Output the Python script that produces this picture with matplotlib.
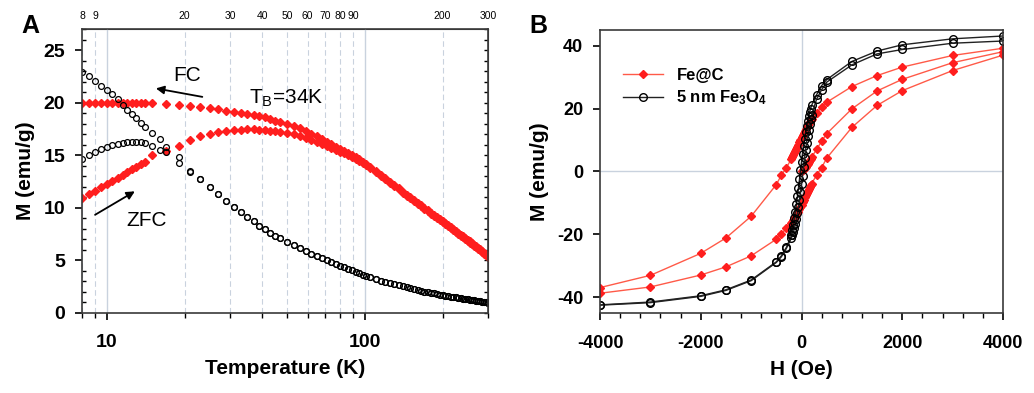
import numpy as np
import matplotlib.pyplot as plt
from matplotlib.ticker import LogLocator, FixedLocator, NullFormatter, MultipleLocator, NullLocator

# ---------------------------------------------------------------
# Panel A data: M(T), FC / ZFC
# ---------------------------------------------------------------
T_low_red = [8, 8.5, 9, 9.5, 10, 10.5, 11, 11.5, 12, 12.5, 13, 13.5, 14, 15, 17, 19, 21]
T_low_blk = [8, 8.5, 9, 9.5, 10, 10.5, 11, 11.5, 12, 12.5, 13, 13.5, 14, 15, 16, 17, 19, 21]
T_high = [23, 25, 27, 29, 31, 33, 35, 37, 39, 41, 43, 45, 47,
          50, 53, 56, 59, 62, 65, 68, 71, 74, 77, 80, 83, 86, 89, 92, 95, 98, 101,
          105, 110, 115, 120, 125, 130, 135, 140, 145, 150, 155, 160, 165, 170, 175,
          180, 185, 190, 195, 200, 205, 210, 215, 220, 225, 230, 235, 240, 245, 250,
          255, 260, 265, 270, 275, 280, 285, 290, 295, 300]

# Fe@C
fec_fc_low = [20.0, 20.0, 20.0, 20.0, 20.0, 20.0, 20.0, 20.0, 20.0, 20.0, 20.0, 20.0, 20.0,
              19.95, 19.85, 19.75, 19.65]
fec_fc_high = [19.55, 19.45, 19.35, 19.25, 19.15, 19.05, 18.95, 18.85, 18.7, 18.6, 18.45, 18.3, 18.15,
               17.95, 17.75, 17.55, 17.3, 17.05, 16.8, 16.55, 16.3, 16.05, 15.8, 15.6, 15.4, 15.2,
               15.0, 14.8, 14.6, 14.4, 14.2,
               13.9, 13.5, 13.15, 12.8, 12.45, 12.15, 11.85, 11.55, 11.25, 11.0, 10.75, 10.5,
               10.25, 10.0, 9.8, 9.55, 9.35, 9.15, 8.95, 8.75, 8.55, 8.35, 8.15, 8.0, 7.8, 7.6,
               7.45, 7.3, 7.1, 6.95, 6.8, 6.65, 6.5, 6.35, 6.2, 6.05, 5.9, 5.75, 5.6, 5.45]
fec_zfc_low = [10.9, 11.27, 11.63, 11.96, 12.28, 12.58, 12.86, 13.14, 13.4, 13.65, 13.89, 14.13, 14.35,
               15.0, 15.4, 15.9, 16.4]
fec_zfc_high = [16.8, 17.05, 17.2, 17.3, 17.38, 17.42, 17.45, 17.45, 17.42, 17.38, 17.33, 17.27, 17.2,
                17.1, 16.98, 16.83, 16.66, 16.48, 16.28, 16.08, 15.88, 15.68, 15.5, 15.35, 15.2,
                15.02, 14.85, 14.65, 14.45, 14.25, 14.05,
                13.8, 13.4, 13.05, 12.7, 12.35, 12.05, 11.75, 11.45, 11.15, 10.9, 10.65, 10.4,
                10.15, 9.9, 9.7, 9.45, 9.25, 9.05, 8.85, 8.65, 8.45, 8.25, 8.05, 7.9, 7.7, 7.5,
                7.35, 7.2, 7.0, 6.85, 6.7, 6.55, 6.4, 6.25, 6.1, 5.95, 5.8, 5.65, 5.5, 5.35]

# 5 nm Fe3O4
fe3o4_fc_low = [22.9, 22.5, 22.1, 21.6, 21.2, 20.8, 20.3, 19.8, 19.3, 18.9, 18.5, 18.1, 17.7,
                17.1, 16.5, 15.8, 14.8, 13.5]
fe3o4_zfc_low = [14.6, 15.0, 15.3, 15.6, 15.8, 16.0, 16.1, 16.2, 16.25, 16.3, 16.3, 16.25, 16.2,
                 15.9, 15.5, 15.35, 14.3, 13.4]
fe3o4_high = [12.7, 12.0, 11.3, 10.65, 10.1, 9.6, 9.1, 8.7, 8.3, 7.95, 7.65, 7.35, 7.1,
              6.75, 6.45, 6.15, 5.9, 5.65, 5.45, 5.25, 5.05, 4.85, 4.65, 4.5, 4.35, 4.2, 4.05,
              3.9, 3.78, 3.65, 3.5,
              3.38, 3.22, 3.08, 2.95, 2.83, 2.72, 2.62, 2.52, 2.43, 2.34, 2.26, 2.18, 2.11,
              2.04, 1.98, 1.92, 1.86, 1.8, 1.75, 1.7, 1.65, 1.6, 1.56, 1.52, 1.48, 1.44, 1.4,
              1.36, 1.33, 1.29, 1.26, 1.23, 1.2, 1.17, 1.14, 1.11, 1.08, 1.05, 1.02, 0.99]

# ---------------------------------------------------------------
# Panel B data: M(H) loops
# ---------------------------------------------------------------
H_desc = [4000, 3000, 2000, 1500, 1000, 500, 400, 300, 200, 180, 160, 140, 120, 100, 80, 60,
          40, 20, 0, -20, -40, -60, -80, -100, -120, -140, -160, -180, -200, -300, -400,
          -500, -1000, -1500, -2000, -3000, -4000]
H_asc = H_desc[::-1]
H_virgin = [0, 20, 40, 60, 80, 100, 120, 140, 160, 180, 200, 300, 400, 500, 1000, 1500,
            2000, 3000, 4000]

fec_desc = [39.2, 36.9, 33.2, 30.5, 27.0, 22.0, 20.5, 18.6, 16.6, 16.2, 15.8, 15.3, 14.8, 14.2,
            13.6, 13.0, 12.3, 11.6, 10.8, 10.0, 9.2, 8.4, 7.7, 7.0, 6.4, 5.8, 5.2, 4.6, 4.0,
            1.2, -1.2, -4.2, -14.3, -21.2, -26.1, -33.1, -37.0]
fec_asc = [-38.8, -36.8, -33.0, -30.4, -26.9, -21.6, -20.0, -18.0, -16.4, -16.0, -15.6, -15.1,
           -14.6, -14.0, -13.4, -12.8, -12.1, -11.4, -10.6, -9.8, -9.0, -8.2, -7.5, -6.8, -6.2,
           -5.6, -5.0, -4.4, -3.9, -1.2, 1.2, 4.2, 14.0, 21.0, 25.7, 32.1, 37.0]
fec_virgin = [0.0, 0.3, 0.6, 1.0, 1.5, 2.0, 2.5, 3.0, 3.5, 4.0, 4.5, 7.0, 9.6, 12.0, 19.9,
              25.6, 29.3, 34.6, 38.1]

fe3o4_desc = [43.1, 42.2, 40.3, 38.3, 35.0, 29.2, 27.3, 24.4, 21.0, 20.0, 18.9, 17.6, 16.1,
              14.4, 12.5, 10.4, 8.1, 5.6, 3.0, 0.3, -2.5, -5.2, -7.9, -10.4, -12.8, -15.0,
              -17.0, -18.8, -20.4, -24.2, -26.9, -28.8, -34.6, -37.7, -39.6, -41.6, -42.5]
fe3o4_asc = [-42.6, -41.8, -39.8, -37.9, -34.8, -29.0, -27.2, -24.5, -21.2, -20.3, -19.3,
             -18.1, -16.7, -15.1, -13.3, -11.3, -9.1, -6.7, -4.1, -1.4, 1.4, 4.1, 6.7, 9.1,
             11.3, 13.2, 15.0, 16.6, 18.0, 23.0, 26.0, 28.4, 33.9, 37.4, 38.8, 40.8, 41.5]

T_top_ticks = [8, 9, 20, 30, 40, 50, 60, 70, 80, 90, 200, 300]

# ---------------------------------------------------------------
# Style
# ---------------------------------------------------------------
plt.rcParams["font.family"] = ["Liberation Sans", "DejaVu Sans"]
plt.rcParams["mathtext.default"] = "regular"
plt.rcParams["axes.unicode_minus"] = False

red = "#FF1E1E"
red_line = "#FF5A48"
grid_c = "#C9D2DE"
spine_c = "#3A3A3A"

fig = plt.figure(figsize=(10.34, 3.93), dpi=100)
axA = fig.add_axes([0.0793, 0.2036, 0.3926, 0.7226])
axB = fig.add_axes([0.5803, 0.2043, 0.3897, 0.7193])

# ---- panel A ----
T_red = T_low_red + T_high
T_blk = T_low_blk + T_high

axA.plot(T_red, fec_fc_low + fec_fc_high, ls="none", marker="D", ms=4.4, color=red, mec=red)
axA.plot(T_red, fec_zfc_low + fec_zfc_high, ls="none", marker="D", ms=4.4, color=red, mec=red)
axA.plot(T_blk, fe3o4_fc_low + fe3o4_high, ls="none", marker="o", ms=4.2, mfc="none",
         mec="black", mew=0.9)
axA.plot(T_blk, fe3o4_zfc_low + fe3o4_high, ls="none", marker="o", ms=4.2, mfc="none",
         mec="black", mew=0.9)

axA.set_xscale("log")
axA.set_xlim(8, 300)
axA.set_ylim(0, 27)
axA.xaxis.set_major_locator(FixedLocator([10, 100]))
axA.xaxis.set_minor_locator(LogLocator(base=10, subs=np.arange(2, 10)))
axA.xaxis.set_minor_formatter(NullFormatter())
axA.set_xticklabels(["10", "100"])
axA.yaxis.set_major_locator(MultipleLocator(5))
axA.yaxis.set_minor_locator(MultipleLocator(1))

axA.grid(which="major", axis="x", color=grid_c, lw=1.0, ls="-", zorder=0)
axA.grid(which="minor", axis="x", color=grid_c, lw=0.8, ls=(0, (5, 3)), zorder=0)
axA.set_axisbelow(True)

axA.tick_params(axis="x", which="major", direction="out", length=5, width=1.2, pad=10,
                labelsize=14)
axA.tick_params(axis="x", which="minor", direction="out", length=3.5, width=1.0)
axA.tick_params(axis="y", which="major", direction="out", length=5, width=1.2, pad=7,
                labelsize=14)
axA.tick_params(axis="y", which="minor", direction="in", length=3, width=1.0)
for lab in axA.get_xticklabels() + axA.get_yticklabels():
    lab.set_fontweight("bold")

# right-side inward ticks
axA_r = axA.secondary_yaxis("right")
axA_r.yaxis.set_major_locator(MultipleLocator(5))
axA_r.yaxis.set_minor_locator(MultipleLocator(1))
axA_r.tick_params(which="both", direction="in", labelright=False, length=3, width=1.0)
axA_r.spines["right"].set_color(spine_c)

# top labels at minor positions
axA_t = axA.secondary_xaxis("top")
axA_t.set_xticks(T_top_ticks)
axA_t.set_xticklabels([str(v) for v in T_top_ticks])
axA_t.xaxis.set_minor_locator(NullLocator())
axA_t.tick_params(length=0, labelsize=7.5, pad=6)
axA_t.spines["top"].set_color(spine_c)

for sp in axA.spines.values():
    sp.set_color(spine_c)
    sp.set_linewidth(1.2)

axA.set_xlabel("Temperature (K)", fontsize=15, fontweight="bold", labelpad=6)
axA.set_ylabel("M (emu/g)", fontsize=15, fontweight="bold", labelpad=6)

axA.text(20.4, 22.6, "FC", fontsize=15, ha="center", va="center")
axA.annotate("", xy=(15.1, 21.4), xytext=(24.0, 20.5),
             arrowprops=dict(arrowstyle="-|>", color="black", lw=1.3, mutation_scale=12))
axA.text(35.5, 20.4, "T$_B$=34K", fontsize=15, ha="left", va="center")
axA.text(14.3, 8.8, "ZFC", fontsize=15, ha="center", va="center")
axA.annotate("", xy=(13.1, 11.7), xytext=(8.8, 9.2),
             arrowprops=dict(arrowstyle="-|>", color="black", lw=1.3, mutation_scale=12))

# ---- panel B ----
axB.axhline(0, color=grid_c, lw=1.0, zorder=0)
axB.axvline(0, color=grid_c, lw=1.0, zorder=0)

kw_red = dict(color=red_line, lw=1.0, marker="D", ms=4.5, mfc=red, mec=red)
axB.plot(H_desc, fec_desc, label="Fe@C", **kw_red)
axB.plot(H_asc, fec_asc, **kw_red)
axB.plot(H_virgin, fec_virgin, **kw_red)

kw_blk = dict(color="#222222", lw=1.0, marker="o", ms=5.5, mfc="none", mec="black", mew=1.0)
axB.plot(H_desc, fe3o4_desc, label="5 nm Fe$_3$O$_4$", **kw_blk)
axB.plot(H_asc, fe3o4_asc, **kw_blk)

axB.set_xlim(-4000, 4000)
axB.set_ylim(-45, 45)
axB.xaxis.set_major_locator(MultipleLocator(2000))
axB.xaxis.set_minor_locator(MultipleLocator(400))
axB.yaxis.set_major_locator(MultipleLocator(20))
axB.tick_params(axis="x", which="major", direction="out", length=5, width=1.2, pad=11,
                labelsize=13)
axB.tick_params(axis="x", which="minor", direction="out", length=3.5, width=1.0)
axB.tick_params(axis="y", which="major", direction="out", length=5, width=1.2, pad=7,
                labelsize=13)
for lab in axB.get_xticklabels() + axB.get_yticklabels():
    lab.set_fontweight("bold")
for sp in axB.spines.values():
    sp.set_color(spine_c)
    sp.set_linewidth(1.2)

axB.set_xlabel("H (Oe)", fontsize=15, fontweight="bold", labelpad=6)
axB.set_ylabel("M (emu/g)", fontsize=15, fontweight="bold", labelpad=6)

leg = axB.legend(loc="upper left", bbox_to_anchor=(0.02, 0.92), frameon=False,
                 handlelength=2.4, prop=dict(weight="bold", size=12),
                 labelspacing=0.35)

fig.text(0.029, 0.935, "A", fontsize=18, fontweight="bold", ha="center", va="center")
fig.text(0.521, 0.935, "B", fontsize=18, fontweight="bold", ha="center", va="center")

fig.savefig("out.png", dpi=100)
